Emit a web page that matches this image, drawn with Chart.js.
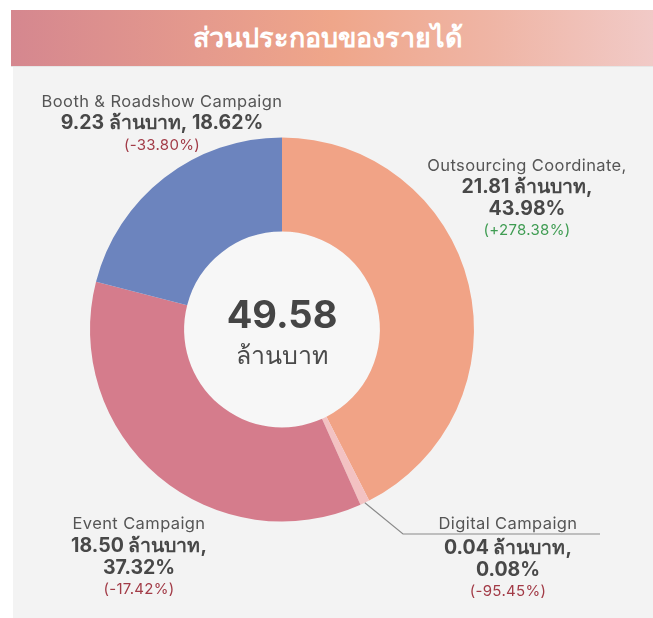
<!DOCTYPE html>
<html>
<head>
<meta charset="utf-8">
<script src="https://cdn.jsdelivr.net/npm/chart.js@4/dist/chart.umd.min.js"></script>
<style>
  html, body { margin: 0; padding: 0; background: #ffffff; width: 653px; height: 618px; overflow: hidden; }
  #header { position: absolute; left: 11px; top: 10px; width: 642px; height: 56px;
    background: linear-gradient(90deg, #d5878f 0%, #e59a8d 30%, #efa68a 50%, #efb5a5 75%, #f1cac7 100%);
    color: #fff; font-family: Inter, 'Noto Sans', sans-serif; font-weight: 700; font-size: 27px;
    text-align: center; line-height: 56px; border-bottom: 1px solid #e6e6e6; }
  #header span { position: relative; left: -4px; }
  #panel { position: absolute; left: 13px; top: 67px; width: 640px; height: 551px; background: #f3f3f3; }
  #c { position: absolute; left: 0; top: 0; }
</style>
</head>
<body>
<div id="header"><span id="title"></span></div>
<div id="panel"></div>
<canvas id="c" width="653" height="618"></canvas>
<script>
// ---- data ----
const title = 'ส่วนประกอบของรายได้';
const unit = 'ล้านบาท';
const totalAmount = '49.58';
const categories = ['Outsourcing Coordinate', 'Digital Campaign', 'Event Campaign', 'Booth & Roadshow Campaign'];
const amounts = ['21.81', '0.04', '18.50', '9.23'];
const sharePct = ['43.98', '0.08', '37.32', '18.62'];
const yoyChange = ['+278.38', '-95.45', '-17.42', '-33.80'];
// slice sizes as drawn in the picture (% of circle)
const drawnShare = [42.5, 0.8, 35.7, 21.0];
const colors = ['#f1a386', '#f3c2c2', '#d57c8c', '#6c84be'];

document.getElementById('title').textContent = title;

const FONT = "Inter, 'Noto Sans', sans-serif";

// label layout (positions only)
const labelLayout = [
  { cx: 527, ys: [166, 187, 209, 230], split: 'three', comma: true },
  { cx: 508, ys: [524, 548, 570, 591], split: 'three', comma: false, leader: true },
  { cx: 139, ys: [524, 546, 568, 589], split: 'three', comma: false },
  { cx: 162, ys: [102, 123, 145], split: 'two', comma: false }
];

function labelLines(i) {
  const L = labelLayout[i];
  const name = categories[i] + (L.comma ? ',' : '');
  const ch = '(' + yoyChange[i] + '%)';
  const chColor = yoyChange[i].startsWith('+') ? '#3f9c52' : '#a23b47';
  const nameL = { t: name, f: '400 16.5px ' + FONT, c: '#555555', ls: '0.4px' };
  const chL = { t: ch, f: '400 15px ' + FONT, c: chColor, ls: '0.3px' };
  if (L.split === 'two') {
    return [
      nameL,
      { t: amounts[i] + ' ' + unit + ', ' + sharePct[i] + '%', f: '700 19.5px ' + FONT, c: '#484848', ls: '0px' },
      chL
    ];
  }
  return [
    nameL,
    { t: amounts[i] + ' ' + unit + ',', f: '700 19.5px ' + FONT, c: '#484848', ls: '0px' },
    { t: sharePct[i] + '%', f: '700 19.5px ' + FONT, c: '#484848', ls: '0px' },
    chL
  ];
}

const decor = {
  id: 'decor',
  beforeDatasetsDraw(chart) {
    const ctx = chart.ctx;
    const arc = chart.getDatasetMeta(0).data[0];
    ctx.save();
    ctx.fillStyle = '#f7f7f7';
    ctx.beginPath();
    ctx.arc(arc.x, arc.y, arc.innerRadius, 0, Math.PI * 2);
    ctx.fill();
    ctx.restore();
  },
  afterDatasetsDraw(chart) {
    const ctx = chart.ctx;
    const meta = chart.getDatasetMeta(0);
    ctx.save();
    ctx.textAlign = 'center';
    ctx.textBaseline = 'middle';
    // center text
    const a0 = meta.data[0];
    ctx.fillStyle = '#454545';
    ctx.font = '700 38px ' + FONT;
    ctx.fillText(totalAmount, a0.x, a0.y - 13);
    ctx.fillStyle = '#4a4a4a';
    ctx.font = '400 25px ' + FONT;
    ctx.fillText(unit, a0.x, a0.y + 27);

    labelLayout.forEach((L, i) => {
      const lines = labelLines(i);
      lines.forEach((ln, k) => {
        ctx.font = ln.f;
        ctx.fillStyle = ln.c;
        ctx.letterSpacing = ln.ls;
        ctx.fillText(ln.t, L.cx, L.ys[k]);
      });
      ctx.letterSpacing = '0px';
      if (L.leader) {
        const a = meta.data[i];
        const mid = (a.startAngle + a.endAngle) / 2;
        const sx = a.x + Math.cos(mid) * a.outerRadius;
        const sy = a.y + Math.sin(mid) * a.outerRadius;
        ctx.strokeStyle = '#8a8a8a';
        ctx.lineWidth = 1.2;
        ctx.beginPath();
        ctx.moveTo(sx, sy);
        ctx.lineTo(403, 534);
        ctx.lineTo(600, 534);
        ctx.stroke();
      }
    });
    ctx.restore();
  }
};

new Chart(document.getElementById('c'), {
  type: 'doughnut',
  data: {
    labels: categories,
    datasets: [{
      data: drawnShare,
      backgroundColor: colors,
      borderWidth: 0
    }]
  },
  options: {
    responsive: false,
    animation: false,
    cutout: '51%',
    layout: { padding: { left: 90, top: 137.5, right: 179, bottom: 96.5 } },
    plugins: { legend: { display: false }, tooltip: { enabled: false } }
  },
  plugins: [decor]
});
</script>
</body>
</html>
